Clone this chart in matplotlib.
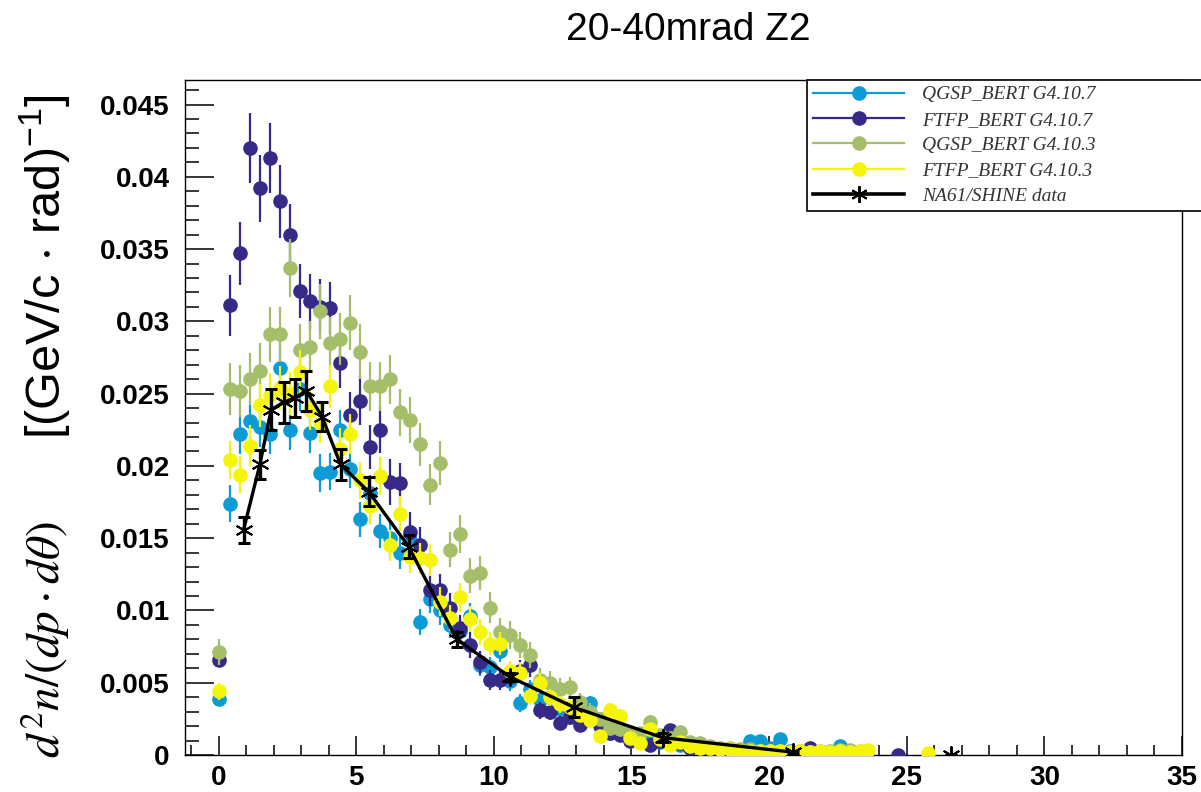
import numpy as np
import matplotlib
matplotlib.use("Agg")
import matplotlib.pyplot as plt
import matplotlib.ticker as mticker
from matplotlib.lines import Line2D

# momentum bins [GeV/c] shared by the simulation histograms
p_bins = [0.0, 0.42, 0.78, 1.15, 1.51, 1.87, 2.24, 2.60, 2.96, 3.33, 3.69,
          4.05, 4.42, 4.78, 5.14, 5.51, 5.87, 6.23, 6.60, 6.96, 7.32,
          7.69, 8.05, 8.41, 8.78, 9.14, 9.50, 9.87, 10.23, 10.59, 10.96,
          11.32, 11.68, 12.05, 12.41, 12.77, 13.14, 13.50, 13.86, 14.23, 14.59,
          14.95, 15.32, 15.68, 16.04, 16.41, 16.77, 17.13, 17.50, 17.86, 18.22,
          18.59, 18.95, 19.31, 19.68, 20.04, 20.40, 20.77, 21.13, 21.49, 21.86,
          22.22, 22.58, 22.95, 23.31]

# all yields below in units of 1e-3 (GeV/c rad)^-1
qgsp_107 = [3.9, 17.4, 22.2, 23.1, 22.7, 22.2, 26.8, 22.5, 25.3, 22.3, 19.5,
            19.6, 22.5, 19.8, 16.3, 18.1, 15.5, 15.0, 14.0, 14.9, 9.2,
            10.8, 10.0, 9.0, 8.6, 9.6, 6.2, 6.1, 7.2, 5.1, 3.6,
            4.6, 3.8, 4.0, 3.2, 3.0, 3.4, 3.6, 2.5, 1.5, 1.8,
            1.2, 1.0, 1.1, 0.9, 0.9, 0.7, 0.5, 0.5, 0.4, 0.3,
            0.4, 0.3, 1.0, 1.0, 0.5, 1.1, 0.3, 0.2, 0.3, 0.2,
            0.2, 0.6, 0.2, 0.1]
qgsp_107_err = [0.4, 1.3, 1.4, 1.4, 1.4, 1.4, 1.5, 1.4, 1.5, 1.4, 1.3,
                1.3, 1.4, 1.3, 1.2, 1.3, 1.2, 1.2, 1.1, 1.2, 0.9,
                1.0, 1.0, 0.9, 0.9, 0.9, 0.7, 0.7, 0.8, 0.7, 0.6,
                0.6, 0.6, 0.6, 0.5, 0.5, 0.5, 0.5, 0.5, 0.4, 0.4,
                0.3, 0.3, 0.3, 0.3, 0.3, 0.3, 0.2, 0.2, 0.2, 0.2,
                0.2, 0.2, 0.3, 0.3, 0.2, 0.3, 0.2, 0.1, 0.2, 0.1,
                0.1, 0.2, 0.1, 0.1]

ftfp_107 = [6.6, 31.1, 34.7, 42.0, 39.2, 41.3, 38.3, 36.0, 32.1, 31.4, 31.0,
            30.9, 27.1, 23.5, 24.5, 21.3, 22.5, 18.9, 18.8, 15.4, 14.5,
            11.4, 11.4, 10.2, 8.8, 7.6, 6.4, 5.2, 5.2, 5.4, 5.8,
            6.2, 3.1, 3.0, 2.2, 2.6, 2.1, 2.5, 2.0, 1.5, 1.4,
            1.0, 0.9, 0.7, 1.0, 1.7, 0.8, 0.5, 0.6, 0.4, 0.4,
            0.3, 0.3, 0.2, 0.2, 0.2, 0.1, 0.2, 0.1, 0.5, 0.1,
            0.1, 0.05, 0.1, 0.0]
ftfp_107_err = [0.5, 2.1, 2.2, 2.4, 2.3, 2.4, 2.5, 2.1, 1.9, 1.9, 1.9,
                1.8, 1.7, 1.6, 1.7, 1.5, 1.6, 1.6, 1.4, 1.4, 1.3,
                1.1, 1.1, 1.0, 0.9, 0.9, 0.8, 0.7, 0.7, 0.7, 0.8,
                0.8, 0.6, 0.6, 0.5, 0.5, 0.5, 0.5, 0.4, 0.4, 0.4,
                0.3, 0.3, 0.3, 0.3, 0.4, 0.3, 0.2, 0.2, 0.2, 0.2,
                0.2, 0.2, 0.1, 0.1, 0.1, 0.1, 0.1, 0.1, 0.2, 0.1,
                0.1, 0.1, 0.1, 0.0]
ftfp_107_extra_p = [24.68]
ftfp_107_extra = [0.0]

qgsp_103 = [7.1, 25.3, 25.2, 26.0, 26.6, 29.1, 29.1, 33.7, 28.0, 28.2, 30.7,
            28.5, 28.8, 29.9, 27.9, 25.5, 25.5, 26.0, 23.7, 23.2, 21.5,
            18.7, 20.2, 14.2, 15.3, 12.4, 12.6, 10.2, 8.5, 8.3, 7.6,
            6.9, 5.2, 5.0, 4.6, 4.7, 3.7, 3.0, 2.5, 1.9, 1.8,
            1.6, 1.5, 2.3, 1.4, 1.2, 1.6, 0.9, 0.8, 0.6, 0.5,
            0.5, 0.4, 0.4, 0.3, 0.3, 0.3, 0.2, 0.3, 0.2, 0.3,
            0.3, 0.35, 0.35, 0.3]
qgsp_103_err = [0.9, 1.8, 1.8, 1.8, 1.9, 1.9, 1.9, 2.0, 1.8, 1.8, 1.9,
                1.8, 1.8, 1.9, 1.9, 1.7, 1.7, 1.7, 1.6, 1.6, 1.5,
                1.4, 1.5, 1.2, 1.3, 1.2, 1.2, 1.1, 1.0, 1.0, 0.9,
                0.9, 0.8, 0.8, 0.7, 0.7, 0.6, 0.6, 0.5, 0.5, 0.5,
                0.4, 0.4, 0.5, 0.4, 0.4, 0.4, 0.3, 0.3, 0.3, 0.2,
                0.2, 0.2, 0.2, 0.2, 0.2, 0.2, 0.15, 0.2, 0.15, 0.2,
                0.2, 0.2, 0.2, 0.2]

ftfp_103 = [4.4, 20.4, 19.4, 21.4, 24.2, 24.9, 25.4, 25.0, 26.5, 23.9, 23.0,
            25.5, 21.2, 22.2, 19.0, 17.2, 19.3, 14.5, 16.7, 13.7, 13.6,
            13.5, 10.6, 9.5, 10.9, 9.4, 8.5, 7.7, 7.7, 5.8, 5.7,
            4.1, 5.0, 4.0, 3.5, 3.3, 2.8, 2.4, 1.3, 3.1, 2.7,
            1.2, 0.8, 1.8, 1.1, 0.7, 0.9, 0.6, 0.5, 0.5, 0.4,
            0.4, 0.3, 0.3, 0.3, 0.3, 0.3, 0.2, 0.3, 0.2, 0.3,
            0.2, 0.3, 0.2, 0.3]
ftfp_103_err = [0.6, 1.3, 1.3, 1.4, 1.5, 1.5, 1.5, 1.5, 1.5, 1.4, 1.4,
                1.5, 1.4, 1.4, 1.3, 1.2, 1.3, 1.1, 1.2, 1.1, 1.1,
                1.1, 1.0, 0.9, 1.0, 0.9, 0.9, 0.8, 0.8, 0.7, 0.7,
                0.6, 0.7, 0.6, 0.6, 0.5, 0.5, 0.5, 0.4, 0.5, 0.5,
                0.3, 0.3, 0.4, 0.3, 0.3, 0.3, 0.2, 0.2, 0.2, 0.2,
                0.2, 0.2, 0.2, 0.2, 0.2, 0.2, 0.1, 0.2, 0.1, 0.2,
                0.1, 0.2, 0.1, 0.2]
ftfp_103_extra_p = [23.6, 25.76]
ftfp_103_extra = [0.35, 0.12]

# NA61/SHINE measurement
na61_p = [0.91, 1.50, 1.91, 2.37, 2.77, 3.19, 3.76, 4.43, 5.46, 6.91,
          8.65, 10.59, 12.91, 16.13, 20.85, 26.60]
na61 = [15.6, 20.1, 23.9, 24.4, 24.7, 25.2, 23.4, 20.1, 18.2, 14.4,
        8.0, 5.4, 3.3, 1.2, 0.2, 0.0]
na61_err = [0.9, 1.0, 1.4, 1.4, 1.3, 1.4, 1.0, 1.1, 1.0, 0.8,
            0.5, 0.3, 0.7, 0.3, 0.1, 0.0]

labels = ["QGSP_BERT G4.10.7", "FTFP_BERT G4.10.7",
          "QGSP_BERT G4.10.3", "FTFP_BERT G4.10.3", "NA61/SHINE data"]
colors = ["#0d9bd6", "#352a87", "#a5be6a", "#f5f50a"]


def main():
    plt.rcParams["mathtext.fontset"] = "stix"
    fig = plt.figure(figsize=(12.01, 7.92), dpi=100)
    ax = fig.add_axes([185 / 1201, 37 / 792, 997 / 1201, 675 / 792])

    sc = 1e-3
    series = [
        (p_bins, qgsp_107, qgsp_107_err),
        (p_bins + ftfp_107_extra_p, ftfp_107 + ftfp_107_extra, ftfp_107_err + [0.0]),
        (p_bins, qgsp_103, qgsp_103_err),
        (p_bins + ftfp_103_extra_p, ftfp_103 + ftfp_103_extra, ftfp_103_err + [0.1, 0.0]),
    ]
    for i, (px, py, pe) in enumerate(series):
        ax.errorbar(px, np.array(py) * sc, yerr=np.array(pe) * sc, fmt="o",
                    ms=9.5, color=colors[i], mec=colors[i], ecolor=colors[i],
                    elinewidth=1.6, capsize=0, zorder=2 + i)

    ax.errorbar(na61_p, np.array(na61) * sc, yerr=np.array(na61_err) * sc,
                fmt="none", ecolor="black", elinewidth=2.4, capsize=4,
                capthick=2.2, zorder=7)
    ax.plot(na61_p[:-1], np.array(na61[:-1]) * sc, color="black", lw=2.4, zorder=8)
    ax.plot(na61_p, np.array(na61) * sc, ls="none", marker=(6, 2, 0), ms=13,
            mec="black", mew=1.4, zorder=9)

    ax.set_xlim(-1.22, 35.0)
    ax.set_ylim(0, 0.0467)
    ax.xaxis.set_major_locator(mticker.MultipleLocator(5))
    ax.xaxis.set_minor_locator(mticker.MultipleLocator(1))
    ax.yaxis.set_major_locator(mticker.MultipleLocator(0.005))
    ax.yaxis.set_minor_locator(mticker.MultipleLocator(0.001))
    ax.yaxis.set_major_formatter(mticker.FuncFormatter(lambda v, _: "%g" % round(v, 4)))

    ax.tick_params(axis="x", which="major", direction="in", length=14, width=1.1, pad=7)
    ax.tick_params(axis="x", which="minor", direction="in", length=7, width=1.1)
    ax.tick_params(axis="y", which="major", direction="in", length=21, width=1.1, pad=11)
    ax.tick_params(axis="y", which="minor", direction="in", length=10, width=1.1)
    ax.tick_params(top=False, right=False)
    for lab in ax.get_xticklabels() + ax.get_yticklabels():
        lab.set_fontfamily("Liberation Sans")
        lab.set_fontweight("bold")
        lab.set_fontsize(20)
    for s in ax.spines.values():
        s.set_linewidth(1.0)

    # y title in two pieces: math part (serif italic) and units (sans)
    fig.text(0.0375, 0.043, r"$d^2n/(dp \cdot d\theta)$", rotation=90,
             ha="center", va="bottom", fontsize=34)
    fig.text(0.0375, 0.881, r"[(GeV/c $\cdot$ rad)$\mathregular{^{-1}}$]", rotation=90,
             ha="center", va="top", fontsize=35, family="Liberation Sans")

    handles = [Line2D([], [], color=c, marker="o", ms=9.5, lw=1.6) for c in colors]
    handles.append(Line2D([], [], color="black", marker=(6, 2, 0), ms=12, lw=2.6, mew=1.4))
    leg = ax.legend(handles, labels, loc="upper left", bbox_to_anchor=(0.624, 0, 0.40, 1.0),
                    mode="expand", borderaxespad=0, fancybox=False, framealpha=1,
                    edgecolor="black", handlelength=4.7, handletextpad=0.9,
                    labelspacing=0.4, borderpad=0.3,
                    prop={"family": "Liberation Serif", "style": "italic", "size": 14})
    leg.get_frame().set_linewidth(1.2)
    for t in leg.get_texts():
        t.set_color("#333333")

    fig.text(0.573, 0.962, "20-40mrad Z2", ha="center", va="center",
             fontsize=28, family="Liberation Sans")

    plt.savefig("out.png", dpi=100)


if __name__ == "__main__":
    main()
